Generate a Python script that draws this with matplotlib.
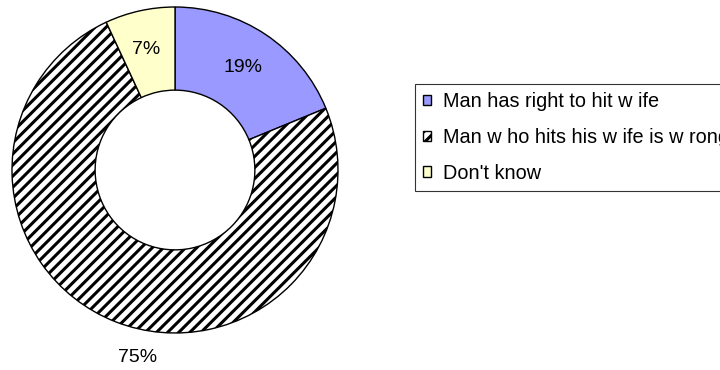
import matplotlib
matplotlib.use("Agg")
import matplotlib.pyplot as plt
from matplotlib.patches import Patch

plt.rcParams['font.family'] = ['Liberation Sans', 'DejaVu Sans']
plt.rcParams['hatch.linewidth'] = 2.2

labels = ["Man has right to hit w ife", "Man w ho hits his w ife is w rong", "Don't know"]
values = [19, 75, 7]
pct_text = ["19%", "75%", "7%"]
colors = ["#9999FF", "white", "#FFFFCC"]
hatches = [None, "///", None]

fig = plt.figure(figsize=(7.2, 3.7), dpi=100)
ax = fig.add_axes([12 / 720, 37 / 370, 326 / 720, 326 / 370])

wedges, _ = ax.pie(values, colors=colors, startangle=90, counterclock=False,
                   radius=1.0, wedgeprops=dict(width=0.51, edgecolor="black", linewidth=1.0))
for w, h in zip(wedges, hatches):
    if h:
        w.set_hatch(h)

# labels: inside ring for small slices, outside for the big one
ax.text(0.42, 0.63, pct_text[0], ha="center", va="center", fontsize=14)
ax.text(-0.18, 0.74, pct_text[2], ha="center", va="center", fontsize=14)
ax.text(-0.23, -1.15, pct_text[1], ha="center", va="center", fontsize=14)

ax.set_xlim(-1, 1)
ax.set_ylim(-1, 1)
ax.set_aspect("equal")
ax.axis("off")

handles = [Patch(facecolor=c, edgecolor="black", hatch=h, linewidth=1.0)
           for c, h in zip(colors, hatches)]
leg = fig.legend(handles, labels, loc="upper left", bbox_to_anchor=(415 / 720, 1 - 84 / 370),
                 fontsize=14.3, frameon=True, fancybox=False, edgecolor="black",
                 handlelength=0.42, handleheight=0.42, handletextpad=0.6,
                 labelspacing=0.85, borderpad=0.4, borderaxespad=0)
leg.get_frame().set_linewidth(0.8)

fig.savefig("out.png", dpi=100)
